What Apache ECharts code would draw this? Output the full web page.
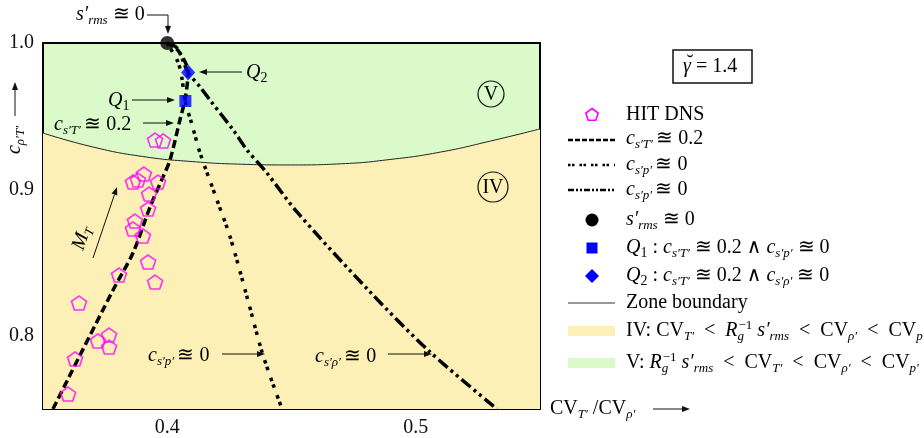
<!DOCTYPE html>
<html><head><meta charset="utf-8">
<script src="https://cdn.jsdelivr.net/npm/echarts@6/dist/echarts.min.js"></script>
<style>html,body{margin:0;padding:0;background:#fff}#c{width:924px;height:438px}</style>
</head><body><div id="c"></div>
<script>
// ---- data ----
const xTicks = [0.4, 0.5];
const yTicks = [0.8, 0.9, 1.0];
const hitX = [0.3951,0.3983,0.3906,0.3882,0.3862,0.3963,0.3927,0.3923,0.3870,0.3862,0.3902,0.3923,0.3951,0.3806,0.3645,0.3721,0.3766,0.3766,0.3629,0.3601];
const hitY = [0.9337,0.9331,0.9105,0.9064,0.9050,0.9050,0.8968,0.8866,0.8784,0.8730,0.8682,0.8504,0.8367,0.8415,0.8224,0.7965,0.8005,0.7923,0.7842,0.7602];
const cSTx = [0.354,0.3782,0.3862,0.3931,0.3983,0.4011,0.4051,0.4071,0.4084,0.4043,0.3999];
const cSTy = [0.750,0.8313,0.8566,0.8880,0.9085,0.9200,0.9474,0.9611,0.9800,0.9950,1.000];
const cSPx = [0.3999,0.4043,0.4059,0.4071,0.4100,0.4132,0.4200,0.4253,0.4321,0.4385,0.4462];
const cSPy = [1.000,0.987,0.976,0.961,0.944,0.9249,0.8928,0.8675,0.8265,0.7869,0.750];
const cSRx = [0.3999,0.4039,0.4084,0.4132,0.4172,0.4265,0.4321,0.4401,0.4522,0.4816,0.5057,0.5327];
const cSRy = [1.000,0.9966,0.980,0.970,0.961,0.9406,0.9269,0.9112,0.8846,0.830,0.789,0.750];
const zoneX = [0.35,0.37,0.39,0.41,0.43,0.45,0.47,0.49,0.51,0.53,0.55];
const zoneY = [0.9385,0.9290,0.9225,0.9190,0.9172,0.9167,0.9175,0.9205,0.9255,0.9330,0.9413];
const srmsPt = [0.4, 1.0];
const q1Pt = [0.4073, 0.9604];
const q2Pt = [0.4084, 0.9799];

// ---- styling ----
const SERIF = '"Liberation Serif","DejaVu Serif",serif';
const TC = '#111';
const YEL = '#FCF0B6', GRN = '#DAFBC9';
const rich = {
  n:{fontFamily:SERIF,fontSize:20,color:TC,lineHeight:24},
  i:{fontFamily:SERIF,fontSize:20,fontStyle:'italic',color:TC,lineHeight:24},
  sb:{fontFamily:SERIF,fontSize:13,fontStyle:'italic',color:TC,lineHeight:13,verticalAlign:'bottom'},
  sbn:{fontFamily:SERIF,fontSize:14,color:TC,lineHeight:13,verticalAlign:'bottom'},
  sp:{fontFamily:SERIF,fontSize:13,color:TC,lineHeight:13,verticalAlign:'top'},
  g0:{fontFamily:SERIF,fontSize:13,fontStyle:'italic',color:TC,lineHeight:13,verticalAlign:'bottom',width:1}
};
const zip = (a,b)=>a.map((v,k)=>[v,b[k]]);
const PENT = 'path://M0,-10L9.51,-3.09L5.88,8.09L-5.88,8.09L-9.51,-3.09Z';

function txt(x,y,t,opt){
  return Object.assign({type:'text',x:x,y:y,z:100,style:{text:t,rich:rich,align:'left',verticalAlign:'middle'}},opt||{});
}
function ctxt(x,y,t,rot){
  const o={type:'text',x:x,y:y,z:100,style:{text:t,rich:rich,align:'center',verticalAlign:'middle'}};
  if(rot) o.rotation=rot;
  return o;
}
function arrow(x1,y1,x2,y2){
  const a=Math.atan2(y2-y1,x2-x1), L=8, W=3;
  const bx=x2-L*Math.cos(a), by=y2-L*Math.sin(a);
  const px=-Math.sin(a)*W, py=Math.cos(a)*W;
  return [
    {type:'line',z:100,shape:{x1:x1,y1:y1,x2:bx,y2:by},style:{stroke:TC,lineWidth:1}},
    {type:'polygon',z:100,shape:{points:[[x2,y2],[bx+px,by+py],[bx-px,by-py]]},style:{fill:TC}}
  ];
}
function pentPts(cx,cy,r){
  const p=[];for(let k=0;k<5;k++){const a=-Math.PI/2+k*2*Math.PI/5;p.push([cx+r*Math.cos(a),cy+r*Math.sin(a)]);}return p;
}

const LX1=568, LX2=615, LM=592, LT=626;
const graphics = [
  txt(76,15,'{i|s′}{sb|rms}{n| ≊ 0}'),
  {type:'polyline',z:100,shape:{points:[[147,15],[168,15],[168,27]]},style:{stroke:TC,lineWidth:1,fill:null}},
  ...arrow(168,25,168,34),
  txt(246,73,'{i|Q}{sbn|2}'),
  ...arrow(242,72,199,72),
  txt(108,101,'{i|Q}{sbn|1}'),
  ...arrow(132,100,175,100),
  txt(54,125,'{i|c}{sb|s′T′} {n|≊ 0.2}'),
  ...arrow(143,123,174,123),
  txt(148,356,'{i|c}{sb|s′p′} {n|≊ 0}'),
  ...arrow(222,354,265,354),
  txt(315,357,'{i|c}{sb|s′ρ′} {n|≊ 0}'),
  ...arrow(388,354,432,354),
  ctxt(82,238,'{i|M}{sb|T}',1.24),
  ...arrow(93,258,117,187),
  {type:'circle',z:100,shape:{cx:491,cy:94,r:13},style:{fill:null,stroke:TC,lineWidth:1.2}},
  ctxt(491,95,'{n|V}'),
  {type:'circle',z:100,shape:{cx:493,cy:187,r:15},style:{fill:null,stroke:TC,lineWidth:1.2}},
  ctxt(493,188,'{n|IV}'),
  ctxt(15,140,'{i|c}{sb|ρ′T′}',Math.PI/2),
  ...arrow(15,116,15,82),
  txt(550,409,'{n|CV}{sb|T′}{n| /CV}{sb|ρ′}'),
  ...arrow(653,409,690,409),
  {type:'rect',z:100,shape:{x:673,y:50,width:79,height:33},style:{fill:'#fff',stroke:TC,lineWidth:1.5}},
  txt(683,67,'{i|γ}{n| = 1.4}'),
  ctxt(690,64,'{n|˘}'),
  {type:'polygon',z:100,shape:{points:pentPts(LM,115,6.5)},style:{fill:null,stroke:'#ff00ff',lineWidth:1.6}},
  txt(LT,115,'{n|HIT DNS}'),
  {type:'line',z:100,shape:{x1:LX1,y1:140,x2:LX2,y2:140},style:{stroke:'#000',lineWidth:2.5,lineDash:[5,2]}},
  txt(LT,139,'{i|c}{sb|s′T′} {n|≊ 0.2}'),
  {type:'line',z:100,shape:{x1:LX1,y1:165,x2:LX2,y2:165},style:{stroke:'#000',lineWidth:2.5,lineDash:[2.5,1.5,2.5,5]}},
  txt(LT,165,'{i|c}{sb|s′p′} {n|≊ 0}'),
  {type:'line',z:100,shape:{x1:LX1,y1:190,x2:LX2,y2:190},style:{stroke:'#000',lineWidth:2.5,lineDash:[6,2,2,2,2,2]}},
  txt(LT,190,'{i|c}{sb|s′p′} {n|≊ 0}'),
  {type:'circle',z:100,shape:{cx:LM,cy:220,r:6.5},style:{fill:'#000'}},
  txt(LT,220,'{i|s′}{sb|rms}{n| ≊ 0}'),
  {type:'rect',z:100,shape:{x:LM-5.5,y:242.5,width:11,height:11},style:{fill:'#0000ff'}},
  txt(LT,248,'{i|Q}{sbn|1}{n| : }{i|c}{sb|s′T′}{n| ≊ 0.2 ∧ }{i|c}{sb|s′p′}{n| ≊ 0}'),
  {type:'polygon',z:100,shape:{points:[[LM,269],[LM+7,276],[LM,283],[LM-7,276]]},style:{fill:'#0000ff'}},
  txt(LT,276,'{i|Q}{sbn|2}{n| : }{i|c}{sb|s′T′}{n| ≊ 0.2 ∧ }{i|c}{sb|s′ρ′}{n| ≊ 0}'),
  {type:'line',z:100,shape:{x1:LX1,y1:303,x2:LX2,y2:303},style:{stroke:'#333',lineWidth:1.2}},
  txt(LT,303,'{n|Zone boundary}'),
  {type:'rect',z:100,shape:{x:LX1,y:326,width:LX2-LX1,height:10},style:{fill:YEL}},
  txt(LT,331,'{n|IV: CV}{sb|T′}{n|  <  }{i|R}{g0|g}{sp|−1}{i| s′}{sb|rms}{n|  <  CV}{sb|ρ′}{n|  <  CV}{sb|p′}'),
  {type:'rect',z:100,shape:{x:LX1,y:358,width:LX2-LX1,height:10},style:{fill:GRN}},
  txt(LT,363,'{n|V: }{i|R}{g0|g}{sp|−1}{i| s′}{sb|rms}{n|  <  CV}{sb|T′}{n|  <  CV}{sb|ρ′}{n|  <  CV}{sb|p′}')
];

const axLbl = {fontFamily:SERIF,fontSize:20,color:TC};
const fmt1 = v => v.toFixed(1);
const option = {
  animation:false,
  backgroundColor:'#fff',
  grid:{left:43,right:384,top:43,bottom:29,show:true,backgroundColor:GRN,borderWidth:0},
  xAxis:[
    {type:'value',min:0.35,max:0.55,interval:0.05,position:'bottom',
     axisLine:{onZero:false,lineStyle:{color:'#000',width:2}},axisTick:{show:false},
     axisLabel:Object.assign({customValues:xTicks,formatter:fmt1,margin:9},axLbl),splitLine:{show:false}},
    {type:'value',min:0.35,max:0.55,position:'top',
     axisLine:{onZero:false,lineStyle:{color:'#000',width:2}},axisTick:{show:false},axisLabel:{show:false},splitLine:{show:false}}
  ],
  yAxis:[
    {type:'value',min:0.75,max:1.0,interval:0.05,position:'left',
     axisLine:{onZero:false,lineStyle:{color:'#000',width:2}},
     axisTick:{show:true,inside:true,length:9,customValues:[0.8,0.9],lineStyle:{color:'#a8a080',type:[3,2],width:1}},
     axisLabel:Object.assign({customValues:yTicks,formatter:fmt1,margin:9},axLbl),splitLine:{show:false}},
    {type:'value',min:0.75,max:1.0,position:'right',
     axisLine:{onZero:false,lineStyle:{color:'#000',width:2}},axisTick:{show:false},axisLabel:{show:false},splitLine:{show:false}}
  ],
  series:[
    {name:'Zone boundary',type:'line',data:zip(zoneX,zoneY),smooth:true,showSymbol:false,z:1,
     lineStyle:{color:'#222',width:1},areaStyle:{color:YEL,opacity:1,origin:'start'}},
    {name:'cST',type:'line',data:zip(cSTx,cSTy),smooth:0.3,showSymbol:false,z:3,
     lineStyle:{color:'#000',width:3.5,type:[8,4]}},
    {name:'cSP',type:'line',data:zip(cSPx,cSPy),smooth:0.3,showSymbol:false,z:3,
     lineStyle:{color:'#000',width:3.5,type:[3.5,3.5,3.5,8]}},
    {name:'cSR',type:'line',data:zip(cSRx,cSRy),smooth:0.3,showSymbol:false,z:3,
     lineStyle:{color:'#000',width:3.5,type:[12,4,3,4,3,4]}},
    {name:'HIT DNS',type:'scatter',data:zip(hitX,hitY),symbol:PENT,symbolSize:[15,14],z:4,
     itemStyle:{color:'rgba(0,0,0,0)',borderColor:'#ff00ff',borderWidth:1.6}},
    {name:'srms',type:'scatter',data:[srmsPt],symbol:'circle',symbolSize:14,z:5,itemStyle:{color:'#000'}},
    {name:'Q1',type:'scatter',data:[q1Pt],symbol:'rect',symbolSize:12,z:5,itemStyle:{color:'#0000ff'}},
    {name:'Q2',type:'scatter',data:[q2Pt],symbol:'diamond',symbolSize:[14,16],z:5,itemStyle:{color:'#0000ff'}}
  ],
  graphic:graphics
};
const chart = echarts.init(document.getElementById('c'),null,{renderer:'canvas'});
chart.setOption(option);
</script></body></html>
